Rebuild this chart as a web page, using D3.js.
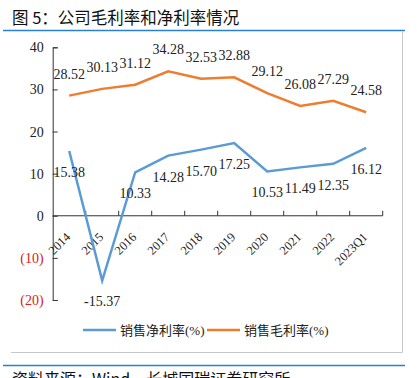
<!DOCTYPE html>
<meta charset="utf-8">
<body style="margin:0;background:#fff">
<script src="https://d3js.org/d3.v7.min.js"></script>
<script>
var years = ["2014","2015","2016","2017","2018","2019","2020","2021","2022","2023Q1"];
var netMargin = [15.38, -15.37, 10.33, 14.28, 15.70, 17.25, 10.53, 11.49, 12.35, 16.12];
var grossMargin = [28.52, 30.13, 31.12, 34.28, 32.53, 32.88, 29.12, 26.08, 27.29, 24.58];
var yTicks = [40, 30, 20, 10, 0, -10, -20];
var seriesNames = ["销售净利率(%)", "销售毛利率(%)"];

var width = 417, height = 378;
var blue = "#5b9bd5", orange = "#ed7d31";
var serif = "'Liberation Serif','Times New Roman','Noto Sans CJK SC',serif";
var cjk = "'Noto Sans CJK SC',sans-serif";

var svg = d3.select("body").append("svg")
    .attr("width", width)
    .attr("height", height);

// title + frame
svg.append("text")
    .attr("x", 12).attr("y", 24)
    .style("font-family", cjk).style("font-size", "16.5px").style("fill", "#111")
    .text("图 5：公司毛利率和净利率情况");
svg.append("line").attr("x1", 3).attr("x2", 405).attr("y1", 30.5).attr("y2", 30.5)
    .attr("stroke", "#2a7fd0").attr("stroke-width", 1.3);
svg.append("line").attr("x1", 402.5).attr("x2", 402.5).attr("y1", 32).attr("y2", 352.5)
    .attr("stroke", "#c8c8c8");
svg.append("line").attr("x1", 11).attr("x2", 402.5).attr("y1", 352.5).attr("y2", 352.5)
    .attr("stroke", "#c8c8c8");
svg.append("line").attr("x1", 3).attr("x2", 405).attr("y1", 365.5).attr("y2", 365.5)
    .attr("stroke", "#2a7fd0").attr("stroke-width", 1.3);
svg.append("text")
    .attr("x", 12).attr("y", 385)
    .style("font-family", cjk).style("font-size", "16px").style("fill", "#111")
    .text("资料来源：Wind，长城国瑞证券研究所");

var x = d3.scaleBand().domain(years).range([52.7, 382.7]).padding(0);
var y = d3.scaleLinear().domain([-20, 40]).range([300, 47.3]);
var cx = function(d) { return x(d) + x.bandwidth() / 2; };

var g = svg.append("g");

// y axis
var yAxis = g.append("g")
    .attr("transform", "translate(" + x.range()[0] + ",0)")
    .call(d3.axisLeft(y).tickValues(yTicks).tickSize(-5).tickPadding(9)
        .tickFormat(function(d) { return d < 0 ? "(" + (-d) + ")" : d; }));
yAxis.selectAll("path, line").attr("stroke", "#333");
yAxis.selectAll("text")
    .style("font-family", serif).style("font-size", "14px")
    .attr("fill", function(d) { return d < 0 ? "#e02020" : "#222"; });

// x axis at zero with ticks on category boundaries
var y0 = y(0);
g.append("line").attr("x1", x.range()[0]).attr("x2", x.range()[1])
    .attr("y1", y0).attr("y2", y0).attr("stroke", "#333");
var bounds = years.map(function(d) { return x(d); }).concat([x.range()[1]]);
g.selectAll(".xtick").data(bounds.slice(1)).enter().append("line")
    .attr("x1", function(d) { return d; }).attr("x2", function(d) { return d; })
    .attr("y1", y0).attr("y2", y0 - 5).attr("stroke", "#333");
g.selectAll(".xlab").data(years).enter().append("text")
    .attr("transform", function(d) { return "translate(" + (cx(d) + 2) + "," + (y0 + 22) + ") rotate(-45)"; })
    .attr("text-anchor", "end")
    .style("font-family", serif).style("font-size", "12.5px").style("fill", "#222")
    .text(function(d) { return d; });

var line = d3.line().x(function(d, i) { return cx(years[i]); }).y(function(d) { return y(d); });

g.append("path").datum(grossMargin).attr("d", line)
    .attr("fill", "none").attr("stroke", orange).attr("stroke-width", 2.5);
g.append("path").datum(netMargin).attr("d", line)
    .attr("fill", "none").attr("stroke", blue).attr("stroke-width", 2.5);

g.selectAll(".glab").data(grossMargin).enter().append("text")
    .attr("x", function(d, i) { return cx(years[i]); })
    .attr("y", function(d) { return y(d) - 17; })
    .attr("text-anchor", "middle")
    .style("font-family", serif).style("font-size", "14px").style("fill", "#222")
    .text(function(d) { return d.toFixed(2); });
g.selectAll(".nlab").data(netMargin).enter().append("text")
    .attr("x", function(d, i) { return cx(years[i]); })
    .attr("y", function(d) { return y(d) + 26; })
    .attr("text-anchor", "middle")
    .style("font-family", serif).style("font-size", "14px").style("fill", "#222")
    .text(function(d) { return d.toFixed(2); });

// legend
var legend = [{name: seriesNames[0], color: blue, x: 83}, {name: seriesNames[1], color: orange, x: 207}];
var lg = svg.selectAll(".lg").data(legend).enter().append("g")
    .attr("transform", function(d) { return "translate(" + d.x + ",330)"; });
lg.append("line").attr("x1", 0).attr("x2", 33).attr("y1", 0).attr("y2", 0)
    .attr("stroke", function(d) { return d.color; }).attr("stroke-width", 2.5);
lg.append("text").attr("x", 37).attr("y", 5)
    .style("font-family", serif).style("font-size", "13px").style("fill", "#222")
    .text(function(d) { return d.name; });
</script>
</body>
